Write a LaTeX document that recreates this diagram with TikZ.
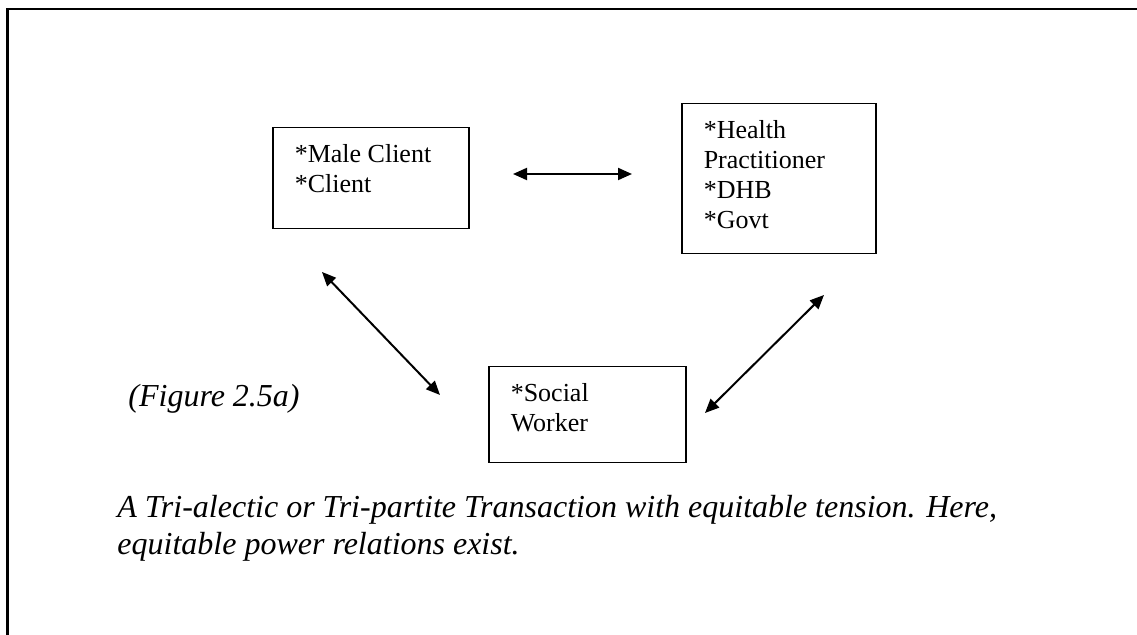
\documentclass[tikz,border=0pt]{standalone}
\usepackage{fontspec}
\setmainfont{Liberation Serif}
\usetikzlibrary{arrows.meta}
\begin{document}
\begin{tikzpicture}[x=0.5pt,y=-0.5pt,
  party/.style={draw,line width=0.75pt,anchor=north west,inner xsep=11pt,inner ysep=7pt,
    font=\fontsize{13}{15}\selectfont},
  link/.style={line width=1pt,{Triangle[length=7pt,width=6pt]}-{Triangle[length=7pt,width=6pt]}},
  note/.style={inner sep=0pt,anchor=base west,font=\fontsize{16}{18.5}\selectfont\itshape}]
\useasboundingbox (0,0) rectangle (1137,635);
\clip (0,0) rectangle (1137,635);
% outer frame
\draw [line width=1.25pt] (7.5,660) -- (7.5,9) -- (1160,9);
% the three parties
\node [party] (male) at (272,127) {\parbox[c][36.5pt][t]{76pt}{\strut*Male Client\\{}*Client}};
\node [party] (health) at (681,103) {\parbox[c][61pt][t]{75pt}{\strut*Health\\Practitioner\\{}*DHB\\{}*Govt}};
\node [party] (social) at (488,366) {\parbox[c][34pt][t]{76.5pt}{\strut*Social\\Worker}};
% arrow ends
\coordinate (male-e) at (513,174);
\coordinate (health-w) at (632,174);
\coordinate (male-s) at (322,272);
\coordinate (social-nw) at (440,395);
\coordinate (health-s) at (824,295);
\coordinate (social-e) at (705,413);
\draw [link] (male-e) -- (health-w);
\draw [link] (male-s) -- (social-nw);
\draw [link] (health-s) -- (social-e);
% labels
\node [note] (fig) at (128,407) {(Figure 2.5a)};
\node [note] (caption) at (117,518) {\parbox[t]{480pt}{A Tri-alectic or Tri-partite Transaction with equitable tension. Here,\\equitable power relations exist.}};
\end{tikzpicture}
\end{document}
